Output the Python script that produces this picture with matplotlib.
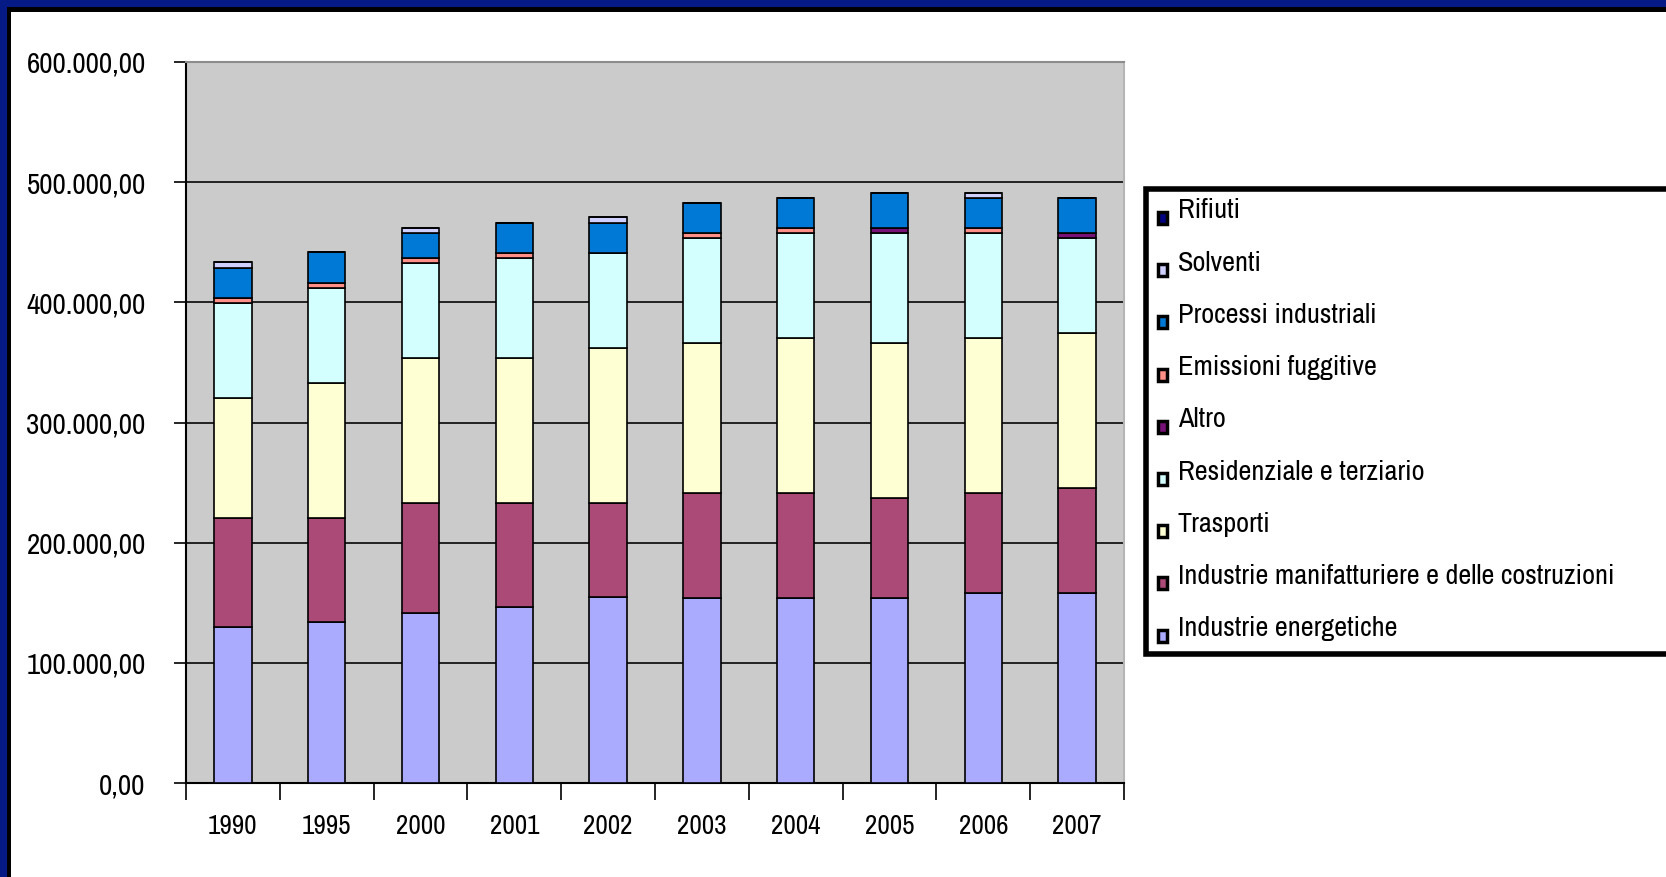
import matplotlib
matplotlib.use("Agg")
import matplotlib.pyplot as plt
from matplotlib import font_manager
from matplotlib.font_manager import FontProperties
from matplotlib.textpath import TextPath
from matplotlib.patches import Rectangle
from matplotlib.ticker import FuncFormatter, FixedLocator
import numpy as np

# Emissioni per settore (migliaia di tonnellate)
anni = ["1990", "1995", "2000", "2001", "2002", "2003", "2004", "2005", "2006", "2007"]
industrie_energetiche = [129600, 133700, 141800, 146200, 154600, 154300, 154300, 154300, 158500, 158500]
industrie_manifatturiere = [91100, 87000, 91400, 87000, 78600, 87200, 87200, 83000, 83000, 87200]
trasporti = [100000, 112500, 120800, 120800, 129200, 124700, 128900, 128900, 128900, 128900]
residenziale_terziario = [78600, 78900, 78600, 83100, 78800, 87300, 87200, 91400, 87200, 78900]
altro = [0, 0, 0, 0, 0, 0, 0, 4200, 0, 4100]
emissioni_fuggitive = [4400, 4100, 4200, 4100, 0, 4100, 4200, 0, 4200, 0]
processi_industriali = [24800, 25300, 20800, 25000, 24800, 25300, 25300, 29200, 25000, 29500]
solventi = [4700, 0, 4500, 0, 4700, 0, 0, 0, 4200, 0]
rifiuti = [0, 0, 0, 0, 0, 0, 0, 0, 0, 0]

serie = [
    ("Industrie energetiche", industrie_energetiche, "#AAAAFF"),
    ("Industrie manifatturiere e delle costruzioni", industrie_manifatturiere, "#AB4A76"),
    ("Trasporti", trasporti, "#FFFFD4"),
    ("Residenziale e terziario", residenziale_terziario, "#D4FFFF"),
    ("Altro", altro, "#771177"),
    ("Emissioni fuggitive", emissioni_fuggitive, "#FF8F87"),
    ("Processi industriali", processi_industriali, "#0079D6"),
    ("Solventi", solventi, "#D0D0FF"),
    ("Rifiuti", rifiuti, "#000080"),
]

# narrow sans-serif face, first one available
names = {f.name for f in font_manager.fontManager.ttflist}
FONT = "Liberation Sans"
for cand in ["Liberation Sans Narrow", "Arial Narrow", "Archivo Narrow", "Roboto Condensed",
             "PT Sans Narrow", "Open Sans Condensed", "Fira Sans Condensed", "Liberation Sans"]:
    if cand in names:
        FONT = cand
        break
plt.rcParams["font.family"] = [FONT, "DejaVu Sans"]
DPI = 100


def fit_size(text, width_px):
    """Font size (pt) at which `text` spans `width_px` pixels."""
    tp = TextPath((0, 0), text, size=100, prop=FontProperties(family=FONT))
    w = tp.get_extents().width
    return 100 * width_px / (w * DPI / 72)


tick_fs = fit_size("600.000,00", 117)
year_fs = fit_size("1990", 47)
legend_fs = fit_size("Industrie manifatturiere e delle costruzioni", 431)

W, H = 1666, 877
fig = plt.figure(figsize=(W / DPI, H / DPI), dpi=DPI)
fig.patch.set_facecolor("white")


def px_rect(x, y, w, h, color, lw=0, ec=None, z=10):
    r = Rectangle((x / W, 1 - (y + h) / H), w / W, h / H, transform=fig.transFigure,
                  facecolor=color, edgecolor=ec if ec else color, linewidth=lw, zorder=z)
    fig.patches.append(r)
    return r


# cornice
px_rect(0, 0, W, 7, "#061A85")
px_rect(0, 0, 7, H, "#061A85")
px_rect(7, 7, W - 7, 5, "#000000")
px_rect(7, 7, 4, H - 7, "#000000")

left, right, top, bottom = 186, 1124, 62, 783
ax = fig.add_axes([left / W, 1 - bottom / H, (right - left) / W, (bottom - top) / H])
ax.set_facecolor("#CBCBCB")

x = np.arange(len(anni))
base = np.zeros(len(anni))
for nome, valori, colore in serie:
    v = np.array(valori, dtype=float)
    ax.bar(x, v, width=0.40, bottom=base, color=colore, edgecolor="black",
           linewidth=1.2, zorder=3)
    base += v

ax.set_xlim(-0.5, len(anni) - 0.5)
ax.set_ylim(0, 600000)
ax.yaxis.set_major_locator(FixedLocator(np.arange(0, 600001, 100000)))


def fmt_it(v, pos):
    s = f"{v:,.2f}"
    return s.replace(",", "X").replace(".", ",").replace("X", ".")


ax.yaxis.set_major_formatter(FuncFormatter(fmt_it))
ax.grid(axis="y", color="#222222", linewidth=1.4, zorder=1)
ax.set_axisbelow(True)

ax.set_xticks(np.arange(-0.5, len(anni), 1.0))
ax.set_xticklabels([])
ax.set_xticks(x, minor=True)
ax.set_xticklabels(anni, minor=True)
ax.tick_params(axis="x", which="major", length=12, width=1.2, color="black", direction="out")
ax.tick_params(axis="x", which="minor", length=0, pad=22, labelsize=year_fs)
ax.tick_params(axis="y", length=9, width=1.2, color="black", direction="out", pad=20,
               labelsize=tick_fs)

ax.spines["left"].set_color("black")
ax.spines["left"].set_linewidth(1.5)
ax.spines["bottom"].set_color("black")
ax.spines["bottom"].set_linewidth(1.5)
ax.spines["top"].set_color("#8C8C8C")
ax.spines["top"].set_linewidth(1.5)
ax.spines["right"].set_color("#B5B5B5")
ax.spines["right"].set_linewidth(1.5)

# legenda
lg_left, lg_top, lg_bottom = 1146, 189, 654
px_rect(lg_left, lg_top, W + 20 - lg_left, lg_bottom - lg_top, "white", lw=4, ec="black", z=5)
y0, step = 211, 52.2
for i, (nome, valori, colore) in enumerate(reversed(serie)):
    yc = y0 + i * step
    px_rect(1158, yc + 1, 9, 12, colore, lw=2.5, ec="black", z=6)
    fig.text(1178 / W, 1 - yc / H, nome, fontsize=legend_fs, va="center", ha="left",
             color="black", zorder=7)

fig.savefig("out.png", dpi=DPI, facecolor=fig.get_facecolor())
